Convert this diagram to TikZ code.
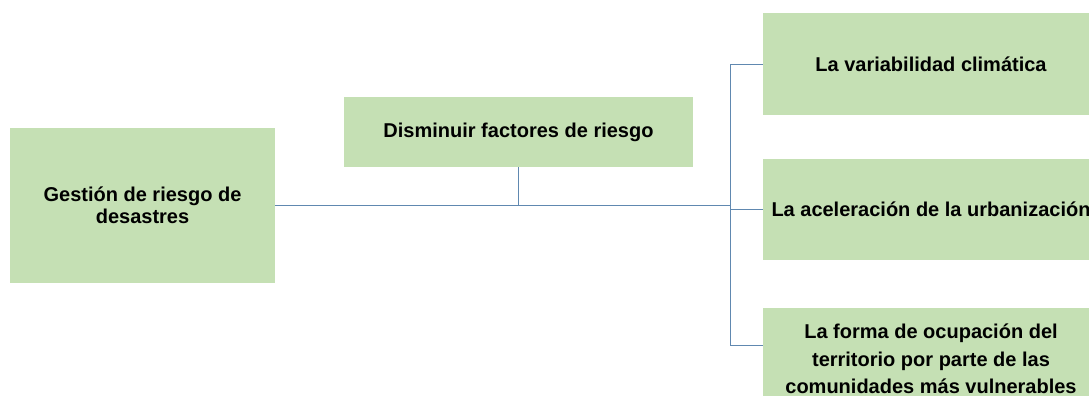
\documentclass[tikz,border=0pt]{standalone}
\usepackage{fontspec}
\setmainfont{Liberation Sans}
\usepackage{xcolor}
\usepackage{tikz}
\usetikzlibrary{calc,positioning}
\definecolor{boxgreen}{RGB}{197,224,180}
\definecolor{linkblue}{RGB}{96,136,176}

\begin{document}
\begin{tikzpicture}[x=1pt,y=-1pt,
		greenbox/.style={fill=boxgreen,inner sep=0pt,align=center,font=\fontsize{20}{22}\selectfont\bfseries},
		link/.style={draw=linkblue,line width=0.9pt}]
		\useasboundingbox (0,0) rectangle (1089,396);
		\node[greenbox,minimum width=265pt,minimum height=155pt] (gestion) at (142.5,205.5) {Gestión de riesgo de\\desastres};
		\node[greenbox,minimum width=349pt,minimum height=70pt] (disminuir) at (518.5,132) {Disminuir factores de riesgo};
		\node[greenbox,minimum width=336pt,minimum height=102pt] (variab) at (931,64) {La variabilidad climática};
		\node[greenbox,minimum width=336pt,minimum height=101pt] (acel) at (931,209.5) {La aceleración de la urbanización};
		\node[greenbox,minimum width=336pt,minimum height=102pt,font=\fontsize{20}{27.5}\selectfont\bfseries] (forma) at (931,359) {La forma de ocupación del\\territorio por parte de las\\comunidades más vulnerables};
		\coordinate (hub) at (730,205.5);
		\draw[link] (gestion.east) -- (hub);
		\draw[link] (disminuir.south) -- (disminuir.south |- hub);
		\draw[link] (variab.west) -| (hub) |- ([yshift=14pt]forma.west);
		\draw[link] (hub |- acel.west) -- (acel.west);
	\end{tikzpicture}
\end{document}
